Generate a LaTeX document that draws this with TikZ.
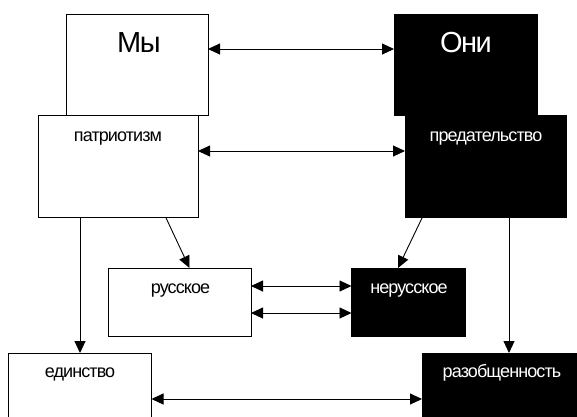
\documentclass[tikz,border=0pt]{standalone}
\usepackage{fontspec}
\setmainfont{Liberation Sans}
\newfontfamily\lbfont[LetterSpace=-5]{Liberation Sans}
\usetikzlibrary{arrows.meta}
\tikzset{
  wbox/.style={draw=black, fill=white, line width=0.9pt, inner sep=0pt, outer sep=0pt},
  bbox/.style={draw=black, fill=black, line width=0.9pt, inner sep=0pt, outer sep=0pt},
  big/.style={font=\lbfont\fontsize{29}{29}\selectfont, anchor=base, inner sep=0pt},
  small/.style={font=\lbfont\fontsize{18}{18}\selectfont, anchor=base, inner sep=0pt},
  tip/.style={Triangle[length=12pt,width=11pt]},
  arr/.style={line width=0.9pt, -{Triangle[length=12pt,width=11pt]}},
  darr/.style={line width=0.9pt, {Triangle[length=12pt,width=11pt]}-{Triangle[length=12pt,width=11pt]}}
}
\begin{document}
\begin{tikzpicture}[x=1pt,y=-1pt]
\useasboundingbox (0,0) rectangle (577,416);
% boxes
\node[wbox, minimum width=142pt, minimum height=101pt] (my) at (137,64.5) {};
\node[bbox, minimum width=143pt, minimum height=101pt] (oni) at (465.5,64.5) {};
\node[wbox, minimum width=160pt, minimum height=102pt] (patr) at (118,166) {};
\node[bbox, minimum width=161pt, minimum height=102pt] (pred) at (485.5,166) {};
\node[wbox, minimum width=142.4pt, minimum height=68pt] (rus) at (179.8,302) {};
\node[bbox, minimum width=114pt, minimum height=68pt] (nerus) at (408.5,302) {};
\node[wbox, minimum width=143pt, minimum height=67pt] (ed) at (80,386.5) {};
\node[bbox, minimum width=168pt, minimum height=67pt] (raz) at (506,386.5) {};
% labels
\node[big] (tmy) at (139,52) {Мы};
\node[big, text=white] (toni) at (466,52) {Они};
\node[small] (tpatr) at (118,141) {патриотизм};
\node[small, text=white] (tpred) at (486,141) {предательство};
\node[small] (trus) at (180.5,293) {русское};
\node[small, text=white] (tnerus) at (409,293) {нерусское};
\node[small] (ted) at (80,377) {единство};
\node[small, text=white] (traz) at (502,377) {разобщенность};
% connectors
\draw[darr] (my.east |- 0,49) -- (oni.west |- 0,49);
\draw[darr] (patr.east |- 0,151) -- (pred.west |- 0,151);
\draw[arr] (patr.south -| 165.6,0) -- (rus.north -| 189.5,0);
\draw[arr] (pred.south -| 422.5,0) -- (nerus.north -| 398,0);
\draw[darr] (rus.east |- 0,286) -- (nerus.west |- 0,286);
\draw[darr] (rus.east |- 0,313) -- (nerus.west |- 0,313);
\draw[arr] (patr.south -| 80,0) -- (ed.north -| 80,0);
\draw[arr] (pred.south -| 509,0) -- (raz.north -| 509,0);
\draw[darr] (ed.east |- 0,399) -- (raz.west |- 0,399);
\end{tikzpicture}
\end{document}
